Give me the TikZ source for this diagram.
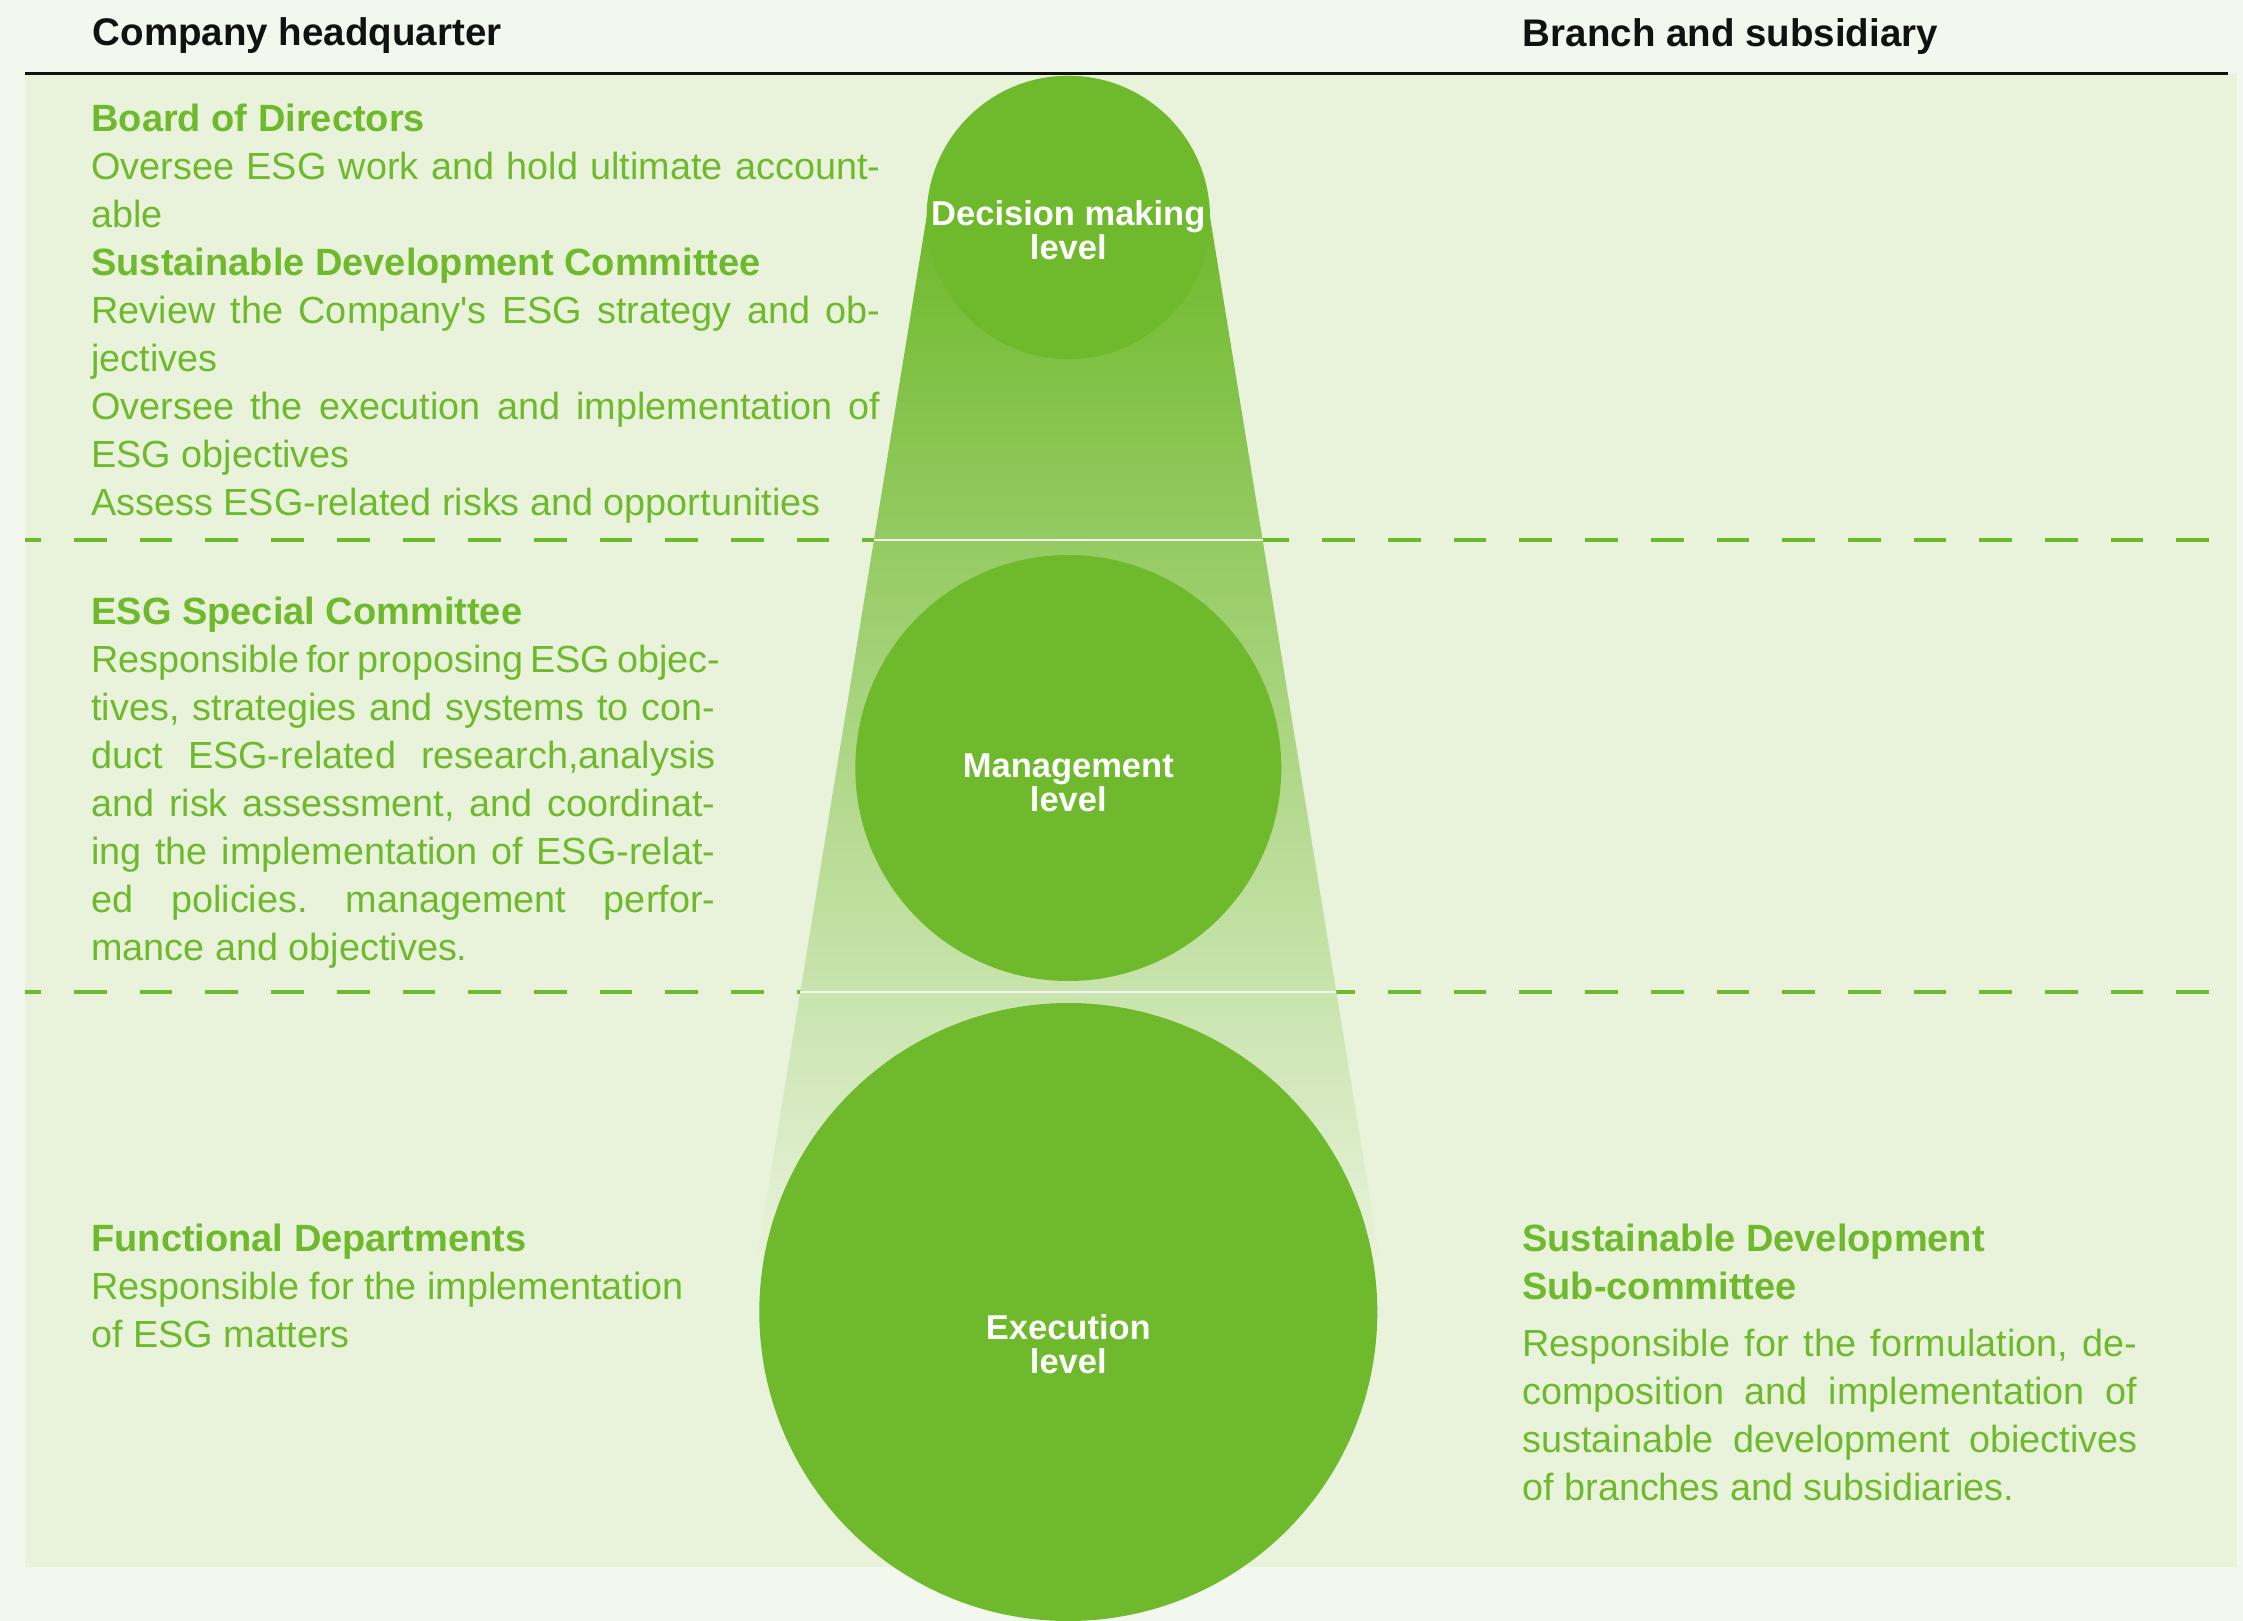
\documentclass[tikz,border=0pt]{standalone}
\usepackage{fontspec}
\setmainfont{Liberation Sans}
\frenchspacing
\definecolor{outerbg}{HTML}{F3F8EE}
\definecolor{panelbg}{HTML}{E9F3DC}
\definecolor{esggreen}{HTML}{6FB92C}
\definecolor{whiteline}{HTML}{F2F4EE}
\definecolor{headblack}{HTML}{111111}
\newcommand{\jline}[2]{\makebox[#1][s]{#2}}
\newcommand{\hdtext}[1]{{\fontsize{19pt}{24pt}\selectfont\bfseries #1}}
\newcommand{\firststrut}{\rule{0pt}{15pt}}
\newcommand{\lblstrut}{\rule{0pt}{14pt}}
\begin{document}
\begin{tikzpicture}[x=0.5pt,y=-0.5pt,
  bodytext/.style={font=\fontsize{18.9pt}{24pt}\selectfont\frenchspacing, text=esggreen, align=left, anchor=north west, inner sep=0pt},
  headtext/.style={font=\fontsize{19.25pt}{24pt}\selectfont\bfseries, text=headblack, anchor=base west, inner sep=0pt},
  lvlcircle/.style={circle, fill=esggreen, inner sep=0pt, draw=none},
  lvltext/.style={font=\fontsize{17.25pt}{17pt}\selectfont\bfseries, text=white, align=center, anchor=north, inner sep=0pt},
  dashline/.style={draw=esggreen, line width=1.7pt, dash pattern=on 16.35pt off 16.5pt, dash phase=8.35pt},
  sepline/.style={draw=whiteline, line width=1.2pt}
]
\useasboundingbox (0,0) rectangle (2243,1621);
\fill[outerbg] (0,0) rectangle (2243,1621);
\fill[panelbg] (25,74) rectangle (2237,1567);
\draw[line width=1.5pt, headblack] (25,74) -- (2228,74);

% dashed level separators
\draw[dashline] (25,540) -- (2237,540);
\draw[dashline] (25,992) -- (2237,992);

% funnel
\coordinate (ftl) at (926.6,217);
\coordinate (ftr) at (1210.0,217);
\coordinate (fbr) at (1381.6,1270);
\coordinate (fbl) at (755.0,1270);
\shade[top color=esggreen, bottom color=panelbg] (ftl) -- (ftr) -- (fbr) -- (fbl) -- cycle;

\coordinate (s1l) at (874.0,540);
\coordinate (s1r) at (1262.6,540);
\coordinate (s2l) at (800.3,992);
\coordinate (s2r) at (1336.3,992);
\draw[sepline] (s1l) -- (s1r);
\draw[sepline] (s2l) -- (s2r);

% level circles
\node[lvlcircle, minimum size=141.7pt] (dec) at (1068.3,217.4) {};
\node[lvlcircle, minimum size=213pt] (man) at (1068.3,768) {};
\node[lvlcircle, minimum size=309pt] (exe) at (1068.3,1312) {};

\node[lvltext] (declbl) at (1068.3,197) {\lblstrut Decision making\\level};
\node[lvltext] (manlbl) at (1068.3,748.7) {\lblstrut Management\\level};
\node[lvltext] (exelbl) at (1068.3,1311) {\lblstrut Execution\\level};

% column headers
\node[headtext] (hq) at (92.5,46) {Company headquarter};
\node[headtext] (branch) at (1522.5,47) {Branch and subsidiary};

% decision making level text
\node[bodytext] (board) at (91,100.7) {\firststrut\hdtext{Board of Directors}\\
\jline{394.5pt}{Oversee ESG work and hold ultimate account-}\\
able\\
\hdtext{Sustainable Development Committee}\\
\jline{394.5pt}{Review the Company\textquotesingle s ESG strategy and ob-}\\
jectives\\
\jline{394.5pt}{Oversee the execution and implementation of}\\
ESG objectives\\
Assess ESG-related risks and opportunities};

% management level text
\node[bodytext] (special) at (91,594) {\firststrut\hdtext{ESG Special Committee}\\
\jline{312pt}{Responsible for proposing ESG objec-}\\
\jline{312pt}{tives, strategies and systems to con-}\\
\jline{312pt}{duct ESG-related research,analysis}\\
\jline{312pt}{and risk assessment, and coordinat-}\\
\jline{312pt}{ing the implementation of ESG-relat-}\\
\jline{312pt}{ed policies. management perfor-}\\
mance and objectives.};

% execution level text
\node[bodytext] (func) at (91,1220.7) {\firststrut\hdtext{Functional Departments}\\
Responsible for the implementation\\
of ESG matters};

\node[bodytext] (subcom) at (1522,1220.7) {\firststrut\hdtext{Sustainable Development}\\
\hdtext{Sub-committee}\\[4.85pt]
\jline{307.5pt}{Responsible for the formulation, de-}\\
\jline{307.5pt}{composition and implementation of}\\
\jline{307.5pt}{sustainable development obiectives}\\
of branches and subsidiaries.};
\end{tikzpicture}
\end{document}
